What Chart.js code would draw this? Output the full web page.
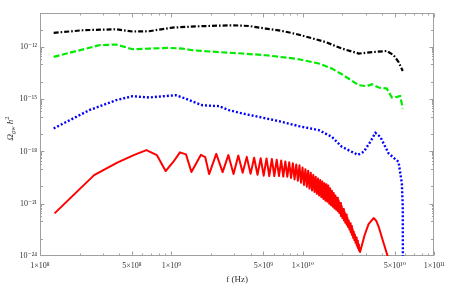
<!DOCTYPE html>
<html><head><meta charset="utf-8">
<script src="https://cdn.jsdelivr.net/npm/chart.js@4/dist/chart.umd.min.js"></script>
<style>html,body{margin:0;padding:0;background:#fff;}canvas{display:block}</style>
</head><body>
<canvas id="c" width="450" height="285"></canvas>
<script>
const xTickValues = [1e8, 5e8, 1e9, 5e9, 1e10, 5e10, 1e11];
const xTickLabels = ['1×10⁸', '5×10⁸', '1×10⁹', '5×10⁹', '1×10¹⁰', '5×10¹⁰', '1×10¹¹'];
const yTickValues = [1e-24, 1e-21, 1e-18, 1e-15, 1e-12];
const yTickLabels = ['10⁻²⁴', '10⁻²¹', '10⁻¹⁸', '10⁻¹⁵', '10⁻¹²'];

const freqBlack = [1.27e8, 2.11e8, 3.79e8, 5.06e8, 6.77e8, 1.02e9, 1.62e9, 2.90e9, 3.89e9, 5.20e9, 6.95e9, 9.04e9, 1.48e10, 1.98e10, 2.66e10, 3.56e10, 4.35e10, 4.90e10, 5.34e10, 5.75e10];
const omegaBlack = [6.4e-12, 9.1e-12, 1.04e-11, 7.7e-12, 8.0e-12, 1.3e-11, 1.54e-11, 1.76e-11, 1.6e-11, 1.14e-11, 8.3e-12, 5.4e-12, 1.94e-12, 8.1e-13, 4.2e-13, 5.2e-13, 5.9e-13, 3.35e-13, 1.38e-13, 4.2e-14];

const freqGreen = [1.27e8, 2.83e8, 3.79e8, 5.06e8, 6.77e8, 9.6e8, 1.21e9, 1.44e9, 2.17e9, 3.46e9, 5.20e9, 9.04e9, 1.32e10, 1.66e10, 1.98e10, 2.66e10, 3.07e10, 3.35e10, 3.77e10, 4.35e10, 4.75e10, 5.18e10, 5.50e10, 5.75e10];
const omegaGreen = [2.7e-13, 1.26e-12, 1.38e-12, 7.4e-13, 8.1e-13, 8.8e-13, 8.1e-13, 6.5e-13, 5.2e-13, 4.2e-13, 3.35e-13, 2.06e-13, 1.12e-13, 5.8e-14, 2.7e-14, 6.4e-15, 5.6e-15, 7.3e-15, 4.7e-15, 4.1e-15, 1.26e-15, 1.36e-15, 1.5e-15, 2.9e-16];

const freqBlue = [1.27e8, 2.37e8, 3.79e8, 5.06e8, 6.77e8, 1.08e9, 1.21e9, 1.72e9, 2.30e9, 2.74e9, 3.46e9, 4.63e9, 6.95e9, 9.31e9, 1.32e10, 1.66e10, 1.98e10, 2.62e10, 2.90e10, 3.26e10, 3.56e10, 3.88e10, 4.49e10, 5.34e10, 5.66e10, 5.75e10, 5.77e10];
const omegaBlue = [2.1e-17, 2.35e-16, 8.8e-16, 1.49e-15, 1.26e-15, 1.7e-15, 1.26e-15, 4.5e-16, 4.0e-16, 2.35e-16, 1.52e-16, 9.7e-17, 5.0e-17, 2.85e-17, 1.68e-17, 6.9e-18, 1.85e-18, 6.4e-19, 9.6e-19, 3.6e-18, 1.17e-17, 6.9e-18, 7.7e-19, 2.55e-19, 1.48e-20, 6.7e-22, 1e-26];

const freqRed = [
  1.29e8, 2.58e8, 3.87e8, 5.16e8, 6.45e8, 7.74e8, 9.03e8, 1.032e9, 1.161e9, 1.29e9, 1.419e9, 1.548e9, 1.677e9, 1.806e9, 1.935e9,
  2.193e9, 2.451e9, 2.709e9, 2.967e9, 3.225e9, 3.483e9, 3.741e9, 3.999e9, 4.257e9, 4.515e9,
  4.773e9, 5.031e9, 5.289e9, 5.547e9, 5.805e9, 6.063e9, 6.321e9, 6.579e9, 6.837e9, 7.095e9,
  7.353e9, 7.611e9, 7.869e9, 8.127e9, 8.385e9, 8.643e9, 8.901e9, 9.159e9, 9.417e9, 9.675e9, 9.933e9,
  1.0191e10, 1.0449e10, 1.0707e10, 1.0965e10, 1.1223e10, 1.1481e10, 1.1739e10, 1.1997e10, 1.2255e10, 1.2513e10,
  1.2771e10, 1.3029e10, 1.3287e10, 1.3545e10, 1.3803e10, 1.4061e10, 1.4319e10, 1.4577e10, 1.4835e10, 1.5093e10,
  1.5351e10, 1.5609e10, 1.5867e10, 1.6125e10, 1.6383e10, 1.6641e10, 1.6899e10, 1.7157e10, 1.7415e10, 1.7673e10,
  1.7931e10, 1.8189e10, 1.8447e10, 1.8705e10, 1.8963e10, 1.9221e10, 1.9479e10, 1.9737e10, 1.9995e10, 2.0253e10,
  2.0511e10, 2.0769e10, 2.1027e10, 2.1285e10, 2.1543e10, 2.1801e10, 2.2059e10, 2.2317e10, 2.2575e10, 2.2833e10,
  2.3091e10, 2.3349e10, 2.3607e10, 2.3865e10, 2.4123e10, 2.4381e10, 2.4639e10, 2.4897e10, 2.5155e10, 2.5413e10,
  2.5671e10, 2.5929e10, 2.6187e10, 2.6445e10, 2.6703e10, 2.6961e10, 2.7219e10,
  2.95e10, 3.16e10, 3.3e10, 3.45e10, 3.6e10, 3.77e10, 4.11e10, 4.41e10, 4.6e10
];
const omegaRed = [
  2.8e-22, 4.4e-20, 2.3e-19, 6.2e-19, 1.2e-18, 6.2e-19, 7.5e-20, 2.5e-19, 8.9e-19, 6.8e-19, 6.6e-20, 2.2e-19, 6.4e-19, 4.8e-19, 5.0e-20,
  7.3e-19, 6.5e-20, 6.2e-19, 5.1e-20, 5.8e-19, 6.0e-20, 4.9e-19, 5.2e-20, 4.4e-19, 4.6e-20,
  4.1e-19, 4.1e-20, 4.0e-19, 3.9e-20, 3.7e-19, 3.8e-20, 3.4e-19, 3.9e-20, 3.0e-19, 3.6e-20,
  2.7e-19, 3.5e-20, 2.4e-19, 3.0e-20, 2.1e-19, 2.5e-20, 1.8e-19, 2.1e-20, 1.6e-19, 1.6e-20, 1.2e-19,
  1.2e-20, 9.7e-20, 9.5e-21, 7.9e-20, 7.4e-21, 6.1e-20, 5.8e-21, 4.6e-20, 4.7e-21, 3.6e-20,
  3.7e-21, 2.8e-20, 3.0e-21, 2.3e-20, 2.4e-21, 1.9e-20, 1.9e-21, 1.5e-20, 1.5e-21, 1.3e-20,
  1.3e-21, 1.1e-20, 1.0e-21, 7.8e-21, 8.2e-22, 5.6e-21, 6.7e-22, 4.1e-21, 5.4e-22, 3.0e-21,
  4.5e-22, 2.2e-21, 3.7e-22, 1.6e-21, 2.9e-22, 1.1e-21, 2.0e-22, 7.4e-22, 1.5e-22, 5.0e-22,
  1.1e-22, 3.4e-22, 8.2e-23, 2.4e-22, 6.2e-23, 1.6e-22, 4.6e-23, 1.1e-22, 3.3e-23, 7.6e-23,
  2.3e-23, 5.3e-23, 1.6e-23, 3.6e-23, 1.1e-23, 2.5e-23, 8.1e-24, 1.7e-23, 5.7e-24, 1.15e-23,
  4.0e-24, 7.4e-24, 2.9e-24, 4.6e-24, 2.1e-24, 2.9e-24, 1.7e-24,
  1.6e-23, 6.8e-23, 1.0e-22, 1.5e-22, 1.1e-22, 4.8e-23, 5.6e-24, 1.0e-24, 1.6e-25
];

function pts(fs, vs) { return fs.map((f, i) => ({x: f, y: vs[i]})); }

const SERIF = '"Liberation Serif", "DejaVu Serif", serif';
const FRAME = '#a0a0a0';

const framePlugin = {
  id: 'frame',
  beforeDatasetsDraw(chart) {
    const {ctx, chartArea: a, scales: {x, y}} = chart;
    ctx.save();
    ctx.strokeStyle = FRAME;
    ctx.lineWidth = 1;
    const L = Math.round(a.left) + 0.5, R = Math.round(a.right) - 0.5;
    const T = Math.round(a.top) + 0.5, B = Math.round(a.bottom) - 0.5;
    ctx.strokeRect(L, T, R - L, B - T);
    ctx.beginPath();
    const xt = [];
    xTickValues.forEach(v => xt.push([v, 4]));
    [1e8, 1e9, 1e10].forEach(d => { for (let k = 2; k <= 9; k++) if (k !== 5) xt.push([k * d, 2]); });
    xt.forEach(([v, len]) => {
      const px = Math.round(x.getPixelForValue(v)) + 0.5;
      ctx.moveTo(px, B); ctx.lineTo(px, B - len);
      ctx.moveTo(px, T); ctx.lineTo(px, T + len);
    });
    const yt = [];
    yTickValues.forEach(v => {
      yt.push([v, 4]);
      for (let k = 2; k <= 9; k++) yt.push([k * v / 10, 1.5]);
    });
    for (let e = -23; e <= -11; e++) {
      const v = Math.pow(10, e);
      if (!yTickValues.some(t => Math.abs(Math.log10(t) - e) < 1e-6)) yt.push([v, 2.5]);
    }
    yt.forEach(([v, len]) => {
      const py = Math.round(y.getPixelForValue(v)) + 0.5;
      if (py < T || py > B) return;
      ctx.moveTo(L, py); ctx.lineTo(L + len, py);
      ctx.moveTo(R, py); ctx.lineTo(R - len, py);
    });
    ctx.stroke();
    ctx.restore();
  },
  afterDraw(chart) {
    const {ctx, chartArea: a} = chart;
    ctx.save();
    ctx.fillStyle = '#333';
    ctx.translate(10, (a.top + a.bottom) / 2 - 6);
    ctx.rotate(-Math.PI / 2);
    ctx.textBaseline = 'alphabetic';
    const parts = [
      {t: 'Ω', f: 'italic 9px ' + SERIF, dy: 3},
      {t: 'gw', f: 'italic 6.5px ' + SERIF, dy: 5},
      {t: ' h', f: 'italic 9px ' + SERIF, dy: 3},
      {t: '2', f: '6.5px ' + SERIF, dy: -1}
    ];
    let w = 0;
    parts.forEach(p => { ctx.font = p.f; p.w = ctx.measureText(p.t).width; w += p.w; });
    let cx = -w / 2;
    parts.forEach(p => { ctx.font = p.f; ctx.fillText(p.t, cx, p.dy); cx += p.w; });
    ctx.restore();
  }
};

new Chart(document.getElementById('c'), {
  type: 'line',
  data: {
    datasets: [
      {label: 'black', data: pts(freqBlack, omegaBlack), borderColor: '#000', borderWidth: 2.2, borderDash: [5, 2, 1.6, 2], pointRadius: 0, tension: 0, fill: false},
      {label: 'green', data: pts(freqGreen, omegaGreen), borderColor: 'rgb(0,235,0)', borderWidth: 2.2, borderDash: [6, 2.5], pointRadius: 0, tension: 0, fill: false},
      {label: 'blue', data: pts(freqBlue, omegaBlue), borderColor: 'rgb(0,0,255)', borderWidth: 2.4, borderDash: [2, 2], pointRadius: 0, tension: 0, fill: false},
      {label: 'red', data: pts(freqRed, omegaRed), borderColor: 'rgb(255,0,0)', borderWidth: 2, borderJoinStyle: 'round', pointRadius: 0, tension: 0, fill: false}
    ]
  },
  options: {
    responsive: false,
    animation: false,
    devicePixelRatio: 1,
    layout: {padding: {left: 0, right: 14, top: 13, bottom: 0}},
    plugins: {legend: {display: false}, tooltip: {enabled: false}, title: {display: false}},
    scales: {
      x: {
        type: 'logarithmic', position: 'bottom', min: 1e8, max: 1e11,
        afterBuildTicks: s => { s.ticks = xTickValues.map(v => ({value: v})); },
        afterFit: s => { s.height = 29; },
        grid: {display: false, drawTicks: false},
        border: {display: false},
        ticks: {autoSkip: false, maxRotation: 0, minRotation: 0, padding: 5, color: '#333',
          font: {family: SERIF, size: 8},
          callback: v => xTickLabels[xTickValues.findIndex(t => Math.abs(t - v) / t < 1e-6)]},
        title: {display: true, text: 'f (Hz)', color: '#333', font: {family: SERIF, size: 9}, padding: {top: 0, bottom: 0}}
      },
      y: {
        type: 'logarithmic', position: 'left', min: 1e-24, max: 8.9e-11,
        afterBuildTicks: s => { s.ticks = yTickValues.map(v => ({value: v})); },
        afterFit: s => { s.width = 40; },
        grid: {display: false, drawTicks: false},
        border: {display: false},
        ticks: {autoSkip: false, padding: 3, color: '#333',
          font: {family: SERIF, size: 8},
          callback: v => yTickLabels[yTickValues.findIndex(t => Math.abs(t - v) / t < 1e-6)]}
      }
    }
  },
  plugins: [framePlugin]
});
</script>
</body></html>
